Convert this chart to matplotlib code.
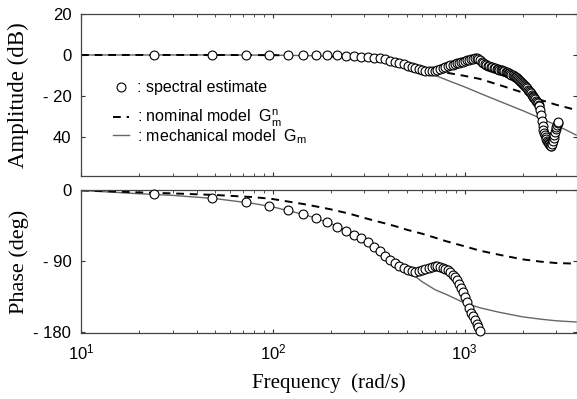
import numpy as np
import matplotlib
matplotlib.use('Agg')
import matplotlib.pyplot as plt
from matplotlib.legend import Legend

plt.rcParams['font.family'] = ['Liberation Sans', 'DejaVu Sans']
plt.rcParams['mathtext.fontset'] = 'custom'
plt.rcParams['mathtext.rm'] = 'Liberation Sans'
plt.rcParams['mathtext.it'] = 'Liberation Sans:italic'

# spectral estimate, frequency resolution 24 rad/s
df = 24.0
amp_db = [
    0, 0, 0, 0, 0, 0, 0, 0, -0.2, -0.4,
    -0.6, -0.9, -1.1, -1.4, -1.7, -2.2, -2.8, -3.4, -4.0, -4.6,
    -5.2, -5.9, -6.5, -7.0, -7.4, -7.8, -8.0, -7.9, -7.6, -7.2,
    -6.7, -6.3, -5.8, -5.4, -5.1, -4.8, -4.5, -4.1, -3.8, -3.5,
    -3.2, -2.9, -2.6, -2.3, -2.0, -1.8, -1.6, -1.5, -2.0, -2.6,
    -3.2, -3.8, -4.4, -4.9, -5.2, -5.5, -5.8, -6.0, -6.3, -6.5,
    -6.7, -6.9, -7.1, -7.3, -7.5, -7.7, -7.9, -8.1, -8.4, -8.7,
    -9.0, -9.3, -9.6, -9.9, -10.2, -10.5, -10.9, -11.3, -11.8, -12.3,
    -12.8, -13.3, -13.8, -14.3, -14.8, -15.3, -15.8, -16.3, -16.9, -17.5,
    -18.1, -18.7, -19.3, -19.9, -20.5, -21.1, -21.7, -22.3, -22.9, -23.5,
    -24.2, -25.0, -27.0, -29.5, -32.0, -34.5, -36.5, -38.0, -39.0, -40.0,
    -41.0, -42.0, -42.5, -43.0, -43.5, -44.0, -44.5, -44.5, -43.5, -42.0,
    -40.5, -39.0, -37.5, -36.0, -35.0, -34.0, -33.0, -32.5]
phase_deg = [
    -5, -10, -15, -20, -25, -30, -35, -40.5, -46, -51,
    -56, -61, -66, -72, -77, -83, -88, -92, -96, -99,
    -101, -102.5, -103, -102.5, -101, -99.5, -98, -97, -96.5, -96.5,
    -97, -98, -99.5, -101.5, -104, -107, -110, -114, -119, -124,
    -129, -135, -142, -149, -155, -160, -165, -170, -174, -178]
f_amp = df * np.arange(1, len(amp_db) + 1)
f_ph = df * np.arange(1, len(phase_deg) + 1)

# model curves
f_model = [10, 20, 30, 50, 80, 100, 150, 200, 250, 300, 350, 400, 450, 500,
           600, 700, 800, 1000, 1200, 1500, 2000, 2500, 3000, 3800]
nom_amp = [0, 0, 0, 0, -0.05, -0.1, -0.3, -0.7, -1.2, -1.9, -2.6, -3.4, -4.2, -5.0,
           -6.3, -7.5, -8.6, -10.2, -11.7, -14.5, -18.3, -22.0, -24.3, -26.8]
mech_amp = [0, 0, 0, 0, -0.05, -0.1, -0.3, -0.6, -1.1, -1.8, -2.6, -3.6, -4.6, -5.6,
            -7.5, -9.9, -12.1, -15.6, -18.7, -22.4, -27.1, -31.0, -34.2, -39.0]
nom_phase = [0, -2.5, -3.8, -5.8, -8.6, -11, -18, -24, -29.5, -35, -39.3, -43, -46.5, -50,
             -55, -60, -64.5, -71, -76.5, -81.5, -87.5, -90.5, -92.2, -93]
mech_phase = [0, -4.2, -6.3, -10.4, -16.8, -21, -31.5, -42, -53, -63, -73, -84, -93, -101,
              -116, -126, -132, -143, -149, -154.5, -160.5, -163.5, -165.5, -167]

fig = plt.figure(figsize=(5.77, 3.99), dpi=100)
ax1 = fig.add_axes([0.1404, 0.559, 0.859, 0.406])
ax2 = fig.add_axes([0.1404, 0.1654, 0.859, 0.3584])

mk = dict(marker='o', ls='none', ms=6.4, mfc='white', mec='black', mew=0.8)

l_mech, = ax1.plot(f_model, mech_amp, '-', color='#666666', lw=1.0, zorder=2)
l_nom, = ax1.plot(f_model, nom_amp, '--', color='black', lw=1.4, dashes=(4, 3), zorder=2)
l_spec, = ax1.plot(f_amp, amp_db, zorder=3, **mk)

ax2.plot(f_model, mech_phase, '-', color='#666666', lw=1.0, zorder=2)
ax2.plot(f_model, nom_phase, '--', color='black', lw=1.4, dashes=(4, 3), zorder=2)
ax2.plot(f_ph, phase_deg, zorder=3, clip_on=False, **mk)

for ax in (ax1, ax2):
    ax.set_xscale('log')
    ax.set_xlim(10, 3830)
    ax.tick_params(which='both', direction='in', top=True, right=True,
                   labelsize=12, pad=7, color='#333333')
    ax.tick_params(which='major', length=3)
    ax.tick_params(which='minor', length=2)
    for s in ax.spines.values():
        s.set_color('#444444')
        s.set_linewidth(0.9)

ax1.set_ylim(-59, 20)
ax1.set_yticks([20, 0, -20, -40])
ax1.set_yticklabels(['20', '0', '- 20', '40'])
ax1.set_xticklabels([], minor=True)
ax1.tick_params(labelbottom=False)

ax2.set_ylim(-181, 0.5)
ax2.set_yticks([0, -90, -180])
ax2.set_yticklabels(['0', '- 90', '- 180'])
ax2.set_xticks([10, 100, 1000])
ax2.set_xticklabels([r'$\mathregular{10^1}$', r'$\mathregular{10^2}$', r'$\mathregular{10^3}$'])
ax2.set_xticklabels([], minor=True)

ax1.set_ylabel('Amplitude (dB)', family=['Liberation Serif', 'DejaVu Serif'],
               fontsize=16.5, labelpad=10)
ax2.set_ylabel('Phase (deg)', family=['Liberation Serif', 'DejaVu Serif'],
               fontsize=16, labelpad=3)
ax2.set_xlabel('Frequency  (rad/s)', family=['Liberation Serif', 'DejaVu Serif'],
               fontsize=15, labelpad=8)

# legend rows placed one by one (uneven spacing as in the original)
rows = [(l_spec, ': spectral estimate', 0.543),
        (l_nom, r': nominal model  $\mathregular{G_m^n}$', 0.355),
        (l_mech, r': mechanical model  $\mathregular{G_m}$', 0.245)]
for handle, text, ypos in rows:
    leg = Legend(ax1, [handle], [text], loc='center left', bbox_to_anchor=(0.064, ypos),
                 frameon=False, fontsize=11.5, handlelength=1.0, handletextpad=0.5,
                 borderaxespad=0, borderpad=0)
    ax1.add_artist(leg)

fig.savefig('out.png', dpi=100)
